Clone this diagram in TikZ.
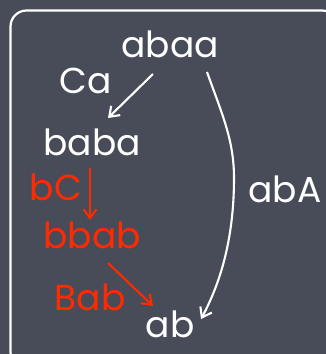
\documentclass[tikz,border=0pt]{standalone}
\usepackage{fontspec}
\setmainfont{Poppins}
\usetikzlibrary{arrows.meta,calc}
\definecolor{bg}{HTML}{474C58}
\definecolor{chalkred}{HTML}{FF2A00}
\tikzset{
  wtext/.style={text=white,anchor=base,inner sep=0pt,font=\fontsize{36}{40}\selectfont},
  rtext/.style={text=chalkred,anchor=base,inner sep=0pt,font=\fontsize{36}{40}\selectfont},
  warrow/.style={draw=white,line width=2.1pt,-{Straight Barb[length=9pt,width=13pt,line width=2.1pt]}},
  rarrow/.style={draw=chalkred,line width=2.1pt,-{Straight Barb[length=9pt,width=13pt,line width=2.1pt]}},
}
\begin{document}
\begin{tikzpicture}[x=1pt,y=-1pt]
\fill[bg] (0,0) rectangle (326,354);
\useasboundingbox (0,0) rectangle (326,354);
\draw[white,line width=2.2pt,rounded corners=16pt] (10.5,10.5) rectangle (338,368);
\node[wtext] (abaa) at (170,57) {abaa};
\node[wtext] (ca) at (86,93) {Ca};
\node[wtext] (baba) at (92,155) {baba};
\node[rtext] (bc) at (56,200) {bC};
\node[rtext] (bbab) at (92,248) {bbab};
\node[rtext] (bab) at (90,310) {Bab};
\node[wtext] (ab) at (170,337) {ab};
\node[wtext] (aba) at (285,202) {abA};
\draw[warrow] ($(abaa.base)+(-17,17)$) -- ($(baba.base)+(16,-37)$);
\draw[rarrow] ($(bc.base)+(34,-32)$) -- ($(bbab.base)+(-2,-28)$);
\draw[rarrow] ($(bbab.base)+(16,15)$) -- ($(ab.base)+(-17,-31)$);
\draw[warrow] ($(abaa.base)+(37,15)$) .. controls (222,114) and (234,140) .. (234,178)
  .. controls (234,235) and (222,280) .. ($(ab.base)+(31,-18)$);
\end{tikzpicture}
\end{document}
